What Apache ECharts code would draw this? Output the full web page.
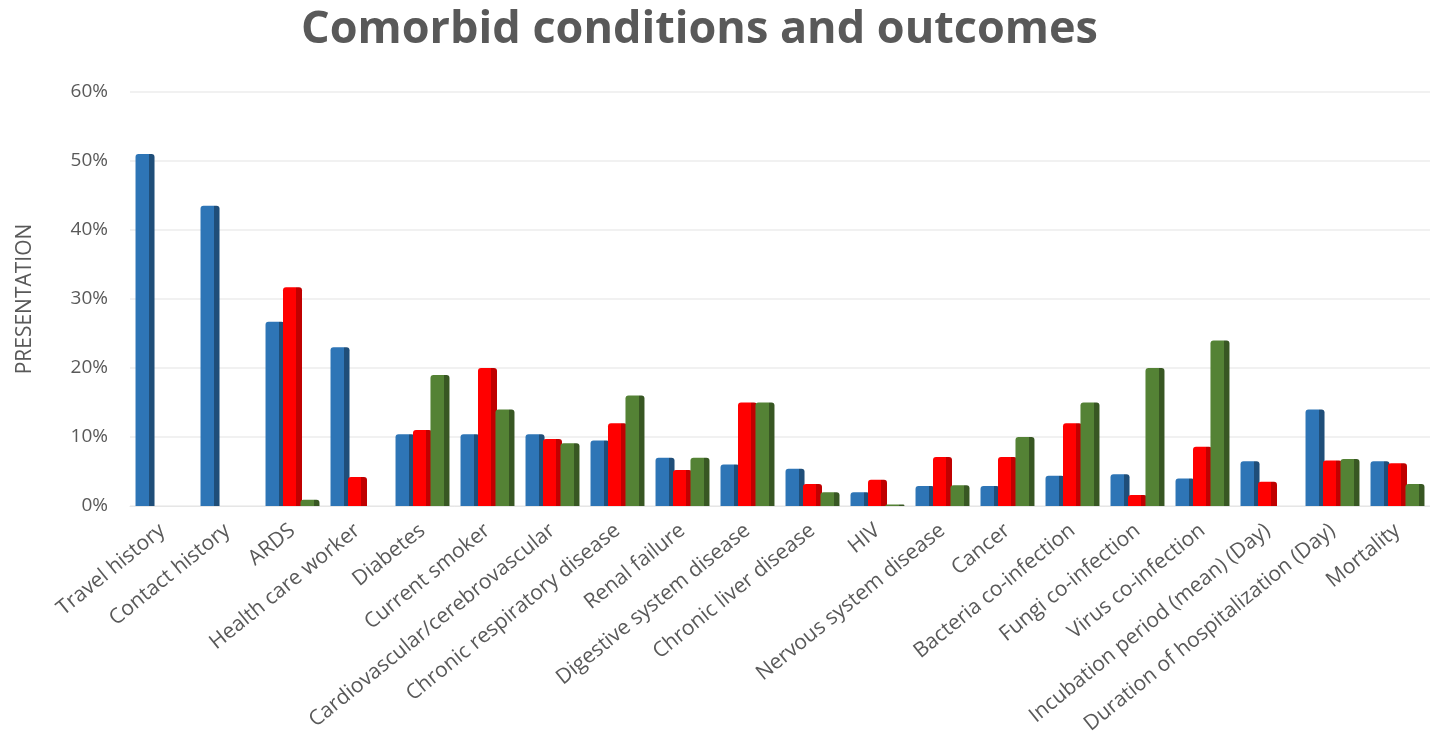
<!DOCTYPE html>
<html>
<head>
<meta charset="utf-8">
<title>Comorbid conditions and outcomes</title>
<script src="https://cdn.jsdelivr.net/npm/echarts@6/dist/echarts.min.js"></script>
<style>
  html, body { margin: 0; padding: 0; background: #fff; }
  #chart { width: 1430px; height: 751px; }
</style>
</head>
<body>
<div id="chart"></div>
<script>
// categories on the x axis
var categories = [
   'Travel history', 'Contact history', 'ARDS', 'Health care worker', 'Diabetes',
   'Current smoker', 'Cardiovascular/cerebrovascular', 'Chronic respiratory disease',
   'Renal failure', 'Digestive system disease', 'Chronic liver disease', 'HIV',
   'Nervous system disease', 'Cancer', 'Bacteria co-infection', 'Fungi co-infection',
   'Virus co-infection', 'Incubation period (mean) (Day)',
   'Duration of hospitalization (Day)', 'Mortality'
];

// three series, values in percent
var blueValues  = [51, 43.5, 26.7, 23, 10.4, 10.4, 10.4, 9.5, 7, 6, 5.4, 2, 2.9, 2.9, 4.4, 4.6, 4, 6.5, 14, 6.5];
var redValues   = [null, null, 31.7, 4.2, 11, 20, 9.7, 12, 5.2, 15, 3.2, 3.8, 7.1, 7.1, 12, 1.6, 8.6, 3.5, 6.6, 6.2];
var greenValues = [null, null, 0.9, null, 19, 14, 9.1, 16, 7, 15, 2, 0.2, 3, 10, 15, 20, 24, null, 6.8, 3.2];

var yTicks = [0, 10, 20, 30, 40, 50, 60];

// bar fill with a darker right edge, like the 3d bars of the original
function barFill(main, dark) {
   return new echarts.graphic.LinearGradient(0, 0, 1, 0, [
      { offset: 0, color: main },
      { offset: 0.7, color: main },
      { offset: 0.71, color: dark },
      { offset: 1, color: dark }
   ]);
}

function makeSeries(name, data, main, dark) {
   return {
      name: name,
      type: 'bar',
      barWidth: 19,
      barGap: '-8%',
      data: data,
      itemStyle: {
         color: barFill(main, dark),
         borderRadius: [3, 3, 0, 0]
      }
   };
}

var oChart = echarts.init(document.getElementById('chart'));
var chartopt = {
   animation: false,
   title: {
      text: 'Comorbid conditions and outcomes',
      left: 296,
      top: 3,
      textStyle: {
         fontFamily: 'Open Sans',
         fontSize: 45,
         fontWeight: 'bold',
         color: '#595959'
      }
   },
   grid: {
      left: 130,
      right: -4,
      top: 92,
      bottom: 245
   },
   xAxis: [{
      type: 'category',
      data: categories,
      axisLine: { show: true, lineStyle: { color: '#e6e6e6' } },
      axisTick: { show: false },
      axisLabel: {
         interval: 0,
         rotate: 39,
         margin: 22,
         fontFamily: 'Open Sans',
         fontSize: 21,
         color: '#595959'
      }
   }],
   yAxis: [{
      type: 'value',
      min: yTicks[0],
      max: yTicks[yTicks.length - 1],
      interval: 10,
      name: 'PRESENTATION',
      nameLocation: 'middle',
      nameGap: 94,
      nameTextStyle: {
         fontFamily: 'Open Sans',
         fontSize: 21,
         color: '#595959'
      },
      axisLine: { show: false },
      axisTick: { show: false },
      axisLabel: {
         margin: 22,
         fontFamily: 'Open Sans',
         fontSize: 19,
         color: '#595959',
         formatter: '{value}%'
      },
      splitLine: { lineStyle: { color: '#ececec', width: 1.5 } }
   }],
   series: [
      makeSeries('Series 1', blueValues, '#2e75b6', '#1f4e79'),
      makeSeries('Series 2', redValues, '#ff0000', '#c00000'),
      makeSeries('Series 3', greenValues, '#548235', '#385723')
   ]
};
oChart.setOption(chartopt);
</script>
</body>
</html>
